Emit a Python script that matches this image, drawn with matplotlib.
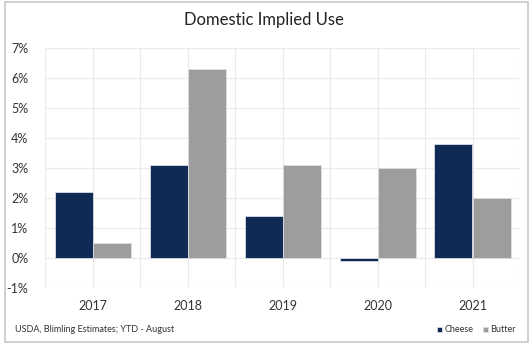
import matplotlib
matplotlib.use("Agg")
import matplotlib.pyplot as plt
import numpy as np
from matplotlib.patches import Rectangle

years = ["2017", "2018", "2019", "2020", "2021"]
cheese = [2.2, 3.1, 1.4, -0.1, 3.8]
butter = [0.5, 6.3, 3.1, 3.0, 2.0]
yticks = [-1, 0, 1, 2, 3, 4, 5, 6, 7]

plt.rcParams['font.family'] = ['Lato', 'DejaVu Sans']
W, H = 532, 351
fig = plt.figure(figsize=(W/100, H/100), dpi=100)
fig.patch.set_facecolor('white')

# outer frame
fig.patches.append(Rectangle((5/W, 1 - 342/H), 523/W, 340/H, transform=fig.transFigure,
                             fill=False, edgecolor='#c8c8c8', lw=1.2, zorder=0))

ax = fig.add_axes([45/W, 1 - 288/H, 475/W, 240/H])
x = np.arange(len(years))
w = 0.4
ax.bar(x - w/2, cheese, w, color='#0f2a55', edgecolor='#d8dde6', linewidth=0.6, zorder=3, label='Cheese')
ax.bar(x + w/2, butter, w, color='#9d9d9d', edgecolor='#dedede', linewidth=0.6, zorder=3, label='Butter')

ax.set_xlim(-0.5, len(years) - 0.5)
ax.set_ylim(-1, 7)
ax.set_yticks(yticks)
ax.set_yticklabels([f"{v}%" for v in yticks])
ax.set_xticks(x)
ax.set_xticklabels(years)
ax.set_xticks(np.arange(-0.5, len(years), 1.0), minor=True)
ax.grid(True, which='both', color='#ebebeb', lw=0.9, zorder=0)
ax.tick_params(axis='both', which='both', length=0, labelsize=9, colors='#333333')
ax.tick_params(axis='x', pad=9)
ax.tick_params(axis='y', pad=12)
for s in ax.spines.values():
    s.set_visible(False)

fig.text(264/W, 1 - 20/H, "Domestic Implied Use", ha='center', va='center', fontsize=12, color='#222222')
fig.text(15/W, 1 - 330/H, "USDA, Blimling Estimates; YTD - August", ha='left', va='center', fontsize=6.5, color='#333333')

leg = fig.legend(loc='center right', bbox_to_anchor=(516/W, 1 - 330/H), ncol=2, frameon=False,
                 fontsize=6.5, handlelength=0.55, handleheight=0.55, handletextpad=0.3, columnspacing=1.0,
                 borderaxespad=0, borderpad=0)
for t in leg.get_texts():
    t.set_color('#333333')

fig.savefig("out.png", dpi=100, facecolor='white')
